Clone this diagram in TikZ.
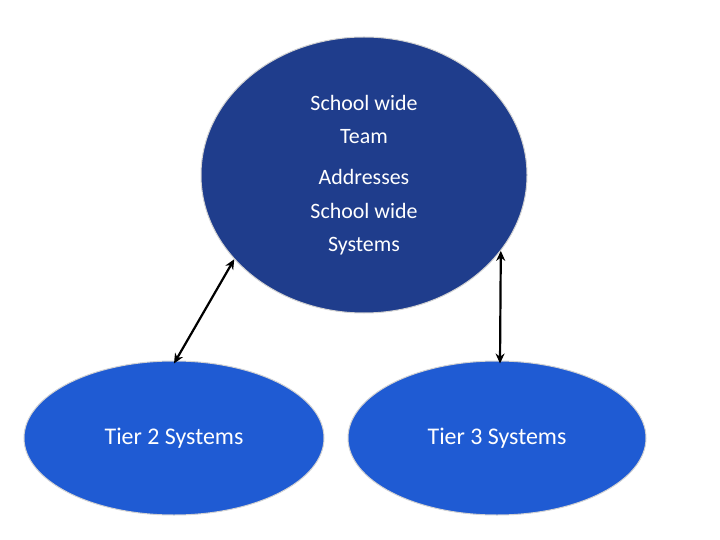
\documentclass[tikz,border=0pt]{standalone}
\usepackage{fontspec}
\setmainfont{Carlito}
\usetikzlibrary{shapes.geometric, arrows.meta}
\definecolor{teamblue}{HTML}{1F3D8C}
\definecolor{tierblue}{HTML}{1F5BD3}
\begin{document}
\begin{tikzpicture}[x=1bp, y=-1bp, <->, >={Stealth[length=10bp,width=9bp]},
        line width=2.2bp,
        blob/.style={ellipse, draw=gray!35, line width=1bp, text=white,
            align=center, inner sep=0pt, font=\fontsize{22}{33.5}\selectfont}]

        \useasboundingbox (0,0) rectangle (720,540);

        \node[blob, fill=teamblue, minimum width=326bp, minimum height=276bp] (team) at (364,175)
            {School wide\\Team\\[0.35em]Addresses\\School wide\\Systems};
        \node[blob, fill=tierblue, minimum width=300bp, minimum height=154bp,
            font=\fontsize{24}{28}\selectfont] (tier2) at (174,438) {Tier 2 Systems};
        \node[blob, fill=tierblue, minimum width=298bp, minimum height=154bp,
            font=\fontsize{24}{28}\selectfont] (tier3) at (497,438) {Tier 3 Systems};

        \draw   (team.213) -- ([yshift=-3bp]tier2.north);
        \draw   (team.331) -- ([xshift=3bp,yshift=-3bp]tier3.north);

    \end{tikzpicture}
\end{document}
